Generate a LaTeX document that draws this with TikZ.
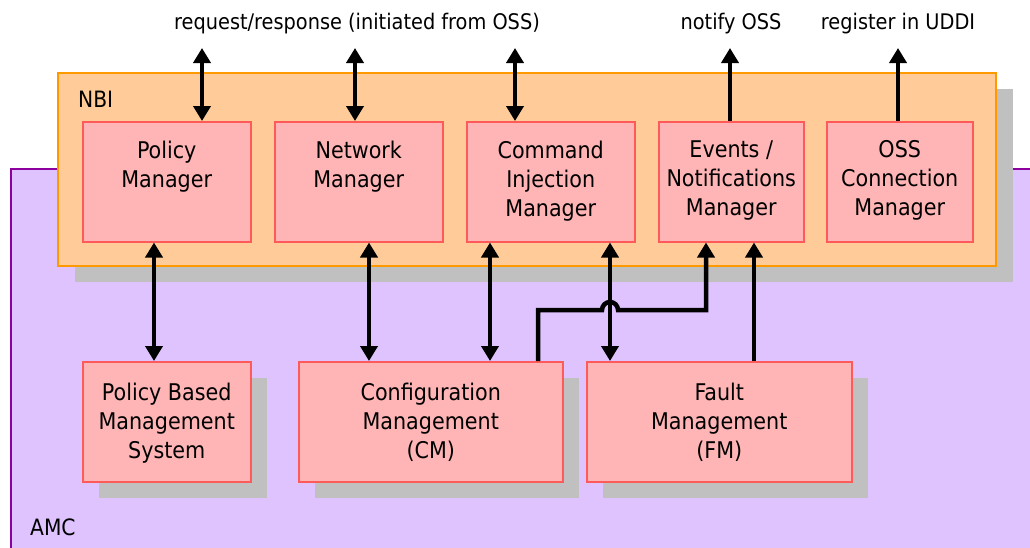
\documentclass[tikz,border=0pt]{standalone}
\usepackage{fontspec}
\setmainfont{DejaVu Sans Condensed}
\usetikzlibrary{arrows.meta,calc,shadows}

\definecolor{amcfill}{RGB}{223,195,255}
\definecolor{amcline}{RGB}{140,0,160}
\definecolor{nbifill}{RGB}{255,204,153}
\definecolor{nbiline}{RGB}{255,153,0}
\definecolor{mgrfill}{RGB}{255,181,181}
\definecolor{mgrline}{RGB}{255,90,90}
\definecolor{shade}{RGB}{192,192,192}

\tikzset{
  mgr/.style={draw=mgrline, fill=mgrfill, line width=1.5pt, anchor=north west,
    inner sep=0pt, minimum height=120pt},
  boxdrop/.style={drop shadow={shadow xshift=16pt, shadow yshift=-16pt,
    fill=shade, opacity=1}},
  txt/.style={font=\fontsize{23}{29}\selectfont, align=center,
    inner sep=0pt, anchor=north},
  lbl/.style={font=\fontsize{21.5}{28.5}\selectfont, inner sep=0pt},
  tag/.style={font=\fontsize{22.5}{28.5}\selectfont, inner sep=0pt, anchor=base west},
  link/.style={line width=4.5pt, -{Triangle[length=15pt,width=17pt]}},
  dlink/.style={line width=4.5pt,
    {Triangle[length=15pt,width=17pt]}-{Triangle[length=15pt,width=17pt]}},
}

\begin{document}
\begin{tikzpicture}[x=1pt,y=-1pt]
\useasboundingbox (0,0) rectangle (1030,547);

% AMC area, running off the right and bottom edges
\begin{scope}
  \clip (0,0) rectangle (1030,547);
  \node[draw=amcline, fill=amcfill, line width=2pt, anchor=north west,
        minimum width=1040pt, minimum height=400pt, inner sep=0pt] (amc) at (10,168) {};
\end{scope}
\node[tag] (amclbl) at (30,535) {AMC};

% NBI layer
\node[draw=nbiline, fill=nbifill, line width=1.5pt, anchor=north west,
      minimum width=938pt, minimum height=193pt, inner sep=0pt,
      drop shadow={shadow xshift=17pt, shadow yshift=-16pt, fill=shade, opacity=1}]
      (nbi) at (57,72) {};
\node[tag] (nbilbl) at (78,107) {NBI};

% NBI managers
\node[mgr, minimum width=168pt] (pm)  at (82,121)  {};
\node[mgr, minimum width=168pt] (nm)  at (274,121) {};
\node[mgr, minimum width=168pt] (cim) at (466,121) {};
\node[mgr, minimum width=145pt] (enm) at (658,121) {};
\node[mgr, minimum width=146pt] (ocm) at (826,121) {};

\node[txt] (pmt)  at ($(pm.north)+(0,19.5)$)  {Policy\\Manager};
\node[txt] (nmt)  at ($(nm.north)+(0,19.5)$)  {Network\\Manager};
\node[txt] (cimt) at ($(cim.north)+(0,19.5)$) {Command\\Injection\\Manager};
\node[txt] (enmt) at ($(enm.north)+(0,19.5)$) {Events /\\Notifications\\Manager};
\node[txt] (ocmt) at ($(ocm.north)+(0,19.5)$) {OSS\\Connection\\Manager};

% AMC subsystems
\node[mgr, boxdrop, minimum width=168pt] (pbms) at (82,361)  {};
\node[mgr, boxdrop, minimum width=264pt] (cm)   at (298,361) {};
\node[mgr, boxdrop, minimum width=265pt] (fm)   at (586,361) {};

\node[txt] (pbmst) at ($(pbms.north)+(0,21.5)$) {Policy Based\\Management\\System};
\node[txt] (cmt)   at ($(cm.north)+(0,21.5)$)   {Configuration\\Management\\(CM)};
\node[txt] (fmt)   at ($(fm.north)+(0,21.5)$)   {Fault\\Management\\(FM)};

% external interface labels
\node[lbl, anchor=base] (rr)   at (357,29) {request/response (initiated from OSS)};
\node[lbl, anchor=base] (noss) at (731,29) {notify OSS};
\node[lbl, anchor=base] (uddi) at (898,29) {register in UDDI};

% free ends of the external links
\coordinate (t1) at (202,48);
\coordinate (t2) at (355,48);
\coordinate (t3) at (515,48);
\coordinate (t4) at (730,48);
\coordinate (t5) at (898,48);

\draw[dlink] (t1) -- (t1 |- pm.north);
\draw[dlink] (t2) -- (t2 |- nm.north);
\draw[dlink] (t3) -- (t3 |- cim.north);
\draw[link] (t4 |- enm.north) -- (t4);
\draw[link] (t5 |- ocm.north) -- (t5);

% internal links
\coordinate (a1) at (154,0);
\coordinate (a2) at (369,0);
\coordinate (a3) at (490,0);
\coordinate (a4) at (610,0);
\coordinate (a7) at (754,0);
\coordinate (bend1) at (538,310);
\coordinate (hopL)  at (602,310);
\coordinate (bend2) at (706,310);

\draw[dlink] (a1 |- pm.south)  -- (a1 |- pbms.north);
\draw[dlink] (a2 |- nm.south)  -- (a2 |- cm.north);
\draw[dlink] (a3 |- cim.south) -- (a3 |- cm.north);
\draw[dlink] (a4 |- cim.south) -- (a4 |- fm.north);
\draw[link] (bend1 |- cm.north) -- (bend1) -- (hopL)
  arc[start angle=180, end angle=0, radius=8pt] -- (bend2) -- (bend2 |- enm.south);
\draw[link] (a7 |- fm.north) -- (a7 |- enm.south);
\end{tikzpicture}
\end{document}
